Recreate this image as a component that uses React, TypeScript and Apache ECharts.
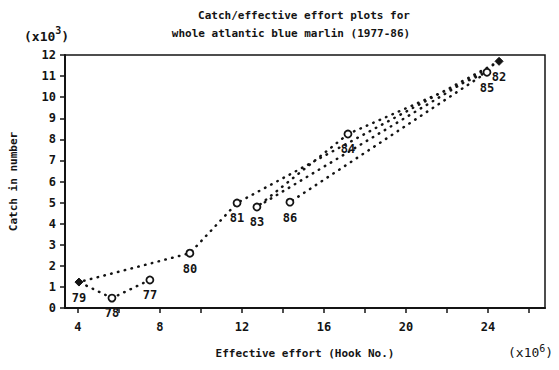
import React, { useEffect, useRef } from "react";
import * as echarts from "echarts";

const years = ["77", "78", "79", "80", "81", "82", "83", "84", "85", "86"];
const effort = [7.51, 5.66, 4.05, 9.46, 11.76, 24.54, 12.73, 17.17, 23.95, 14.34];
const catchNum = [1.33, 0.47, 1.23, 2.6, 4.98, 11.7, 4.79, 8.25, 11.18, 5.02];
const xLabels = [4, 8, 12, 16, 20, 24];
const xTicks = [4, 6, 8, 10, 12, 14, 16, 18, 20, 22, 24, 26];
const filledYears = ["79", "82"];

const FONT = "'DejaVu Sans Mono', monospace";
const INK = "#141414";

export default function App() {
  const ref = useRef<HTMLDivElement>(null);
  useEffect(() => {
    document.body.style.margin = "0";
    const chart = echarts.init(ref.current!, null, { renderer: "svg" });
    const data = years.map((y, i) => {
      const filled = filledYears.includes(y);
      return {
        value: [effort[i], catchNum[i]],
        name: y,
        symbol: filled ? "diamond" : "circle",
        symbolSize: filled ? 8 : 7,
        itemStyle: filled
          ? { color: INK, borderColor: INK, borderWidth: 1 }
          : { color: "#ffffff", borderColor: INK, borderWidth: 1.8 },
      };
    });
    chart.setOption({
      animation: false,
      backgroundColor: "#ffffff",
      grid: {
        left: 65,
        right: 14,
        top: 55,
        bottom: 62,
        show: true,
        borderColor: INK,
        borderWidth: 1.5,
      },
      xAxis: {
        type: "value",
        min: 3.37,
        max: 26.78,
        name: "Effective effort (Hook No.)",
        nameLocation: "middle",
        nameGap: 40,
        nameTextStyle: { fontFamily: FONT, fontSize: 11, color: INK, fontWeight: "bold" },
        axisLine: { lineStyle: { color: INK, width: 2 } },
        axisTick: { show: true, length: 5, lineStyle: { color: INK, width: 1.5 }, customValues: xTicks },
        axisLabel: {
          customValues: xLabels,
          margin: 13,
          fontFamily: FONT,
          fontSize: 12,
          fontWeight: "bold",
          color: INK,
        },
        splitLine: { show: false },
      },
      yAxis: {
        type: "value",
        min: 0,
        max: 12,
        interval: 1,
        name: "Catch in number",
        nameLocation: "middle",
        nameGap: 46,
        nameRotate: 90,
        nameTextStyle: { fontFamily: FONT, fontSize: 11, color: INK, fontWeight: "bold" },
        axisLine: { show: true, lineStyle: { color: INK, width: 2 } },
        axisTick: { show: true, length: 5, lineStyle: { color: INK, width: 1.5 } },
        axisLabel: { margin: 9, fontFamily: FONT, fontSize: 12, fontWeight: "bold", color: INK },
        splitLine: { show: false },
      },
      graphic: [
        {
          type: "text",
          x: 304,
          y: 15,
          style: {
            text: "Catch/effective effort plots for",
            font: `bold 11px ${FONT}`,
            fill: INK,
            align: "center",
            verticalAlign: "middle",
          },
        },
        {
          type: "text",
          x: 291,
          y: 33,
          style: {
            text: "whole atlantic blue marlin (1977-86)",
            font: `bold 11px ${FONT}`,
            fill: INK,
            align: "center",
            verticalAlign: "middle",
          },
        },
        {
          type: "text",
          x: 24,
          y: 34,
          style: {
            text: "{b|(x10}{s|3}{b|)}",
            rich: {
              b: { font: `bold 13px ${FONT}`, fill: INK, verticalAlign: "bottom" },
              s: { font: `bold 10px ${FONT}`, fill: INK, padding: [0, 0, 8, 0] },
            },
            verticalAlign: "middle",
          },
        },
        {
          type: "text",
          x: 508,
          y: 352,
          style: {
            text: "{b|(x10}{s|6}{b|)}",
            rich: {
              b: { font: `13px ${FONT}`, fill: INK },
              s: { font: `10px ${FONT}`, fill: INK, padding: [0, 0, 8, 0] },
            },
            verticalAlign: "middle",
          },
        },
      ],
      series: [
        {
          type: "line",
          data,
          lineStyle: { color: INK, width: 2.5, type: [0.5, 6.5], cap: "round" },
          label: {
            show: true,
            position: "bottom",
            distance: 5,
            formatter: (p: any) => p.name,
            fontFamily: FONT,
            fontSize: 12,
            fontWeight: "bold",
            color: INK,
          },
          z: 3,
        },
      ],
    });
    return () => chart.dispose();
  }, []);
  return <div ref={ref} style={{ width: 559, height: 370 }} />;
}
